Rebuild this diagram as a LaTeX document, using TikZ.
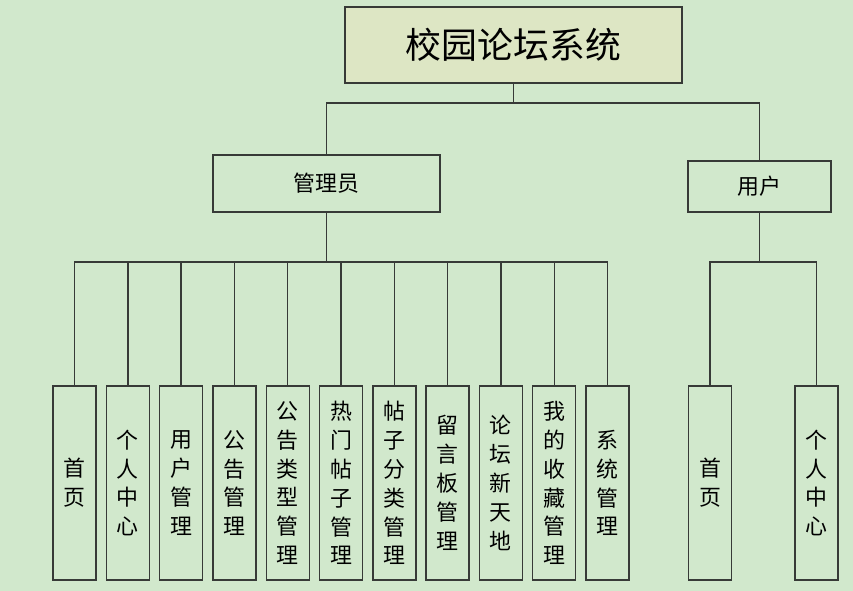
\documentclass[tikz,border=0pt]{standalone}
\usepackage{fontspec}
\newfontfamily\cjk{Noto Sans CJK SC}
\usepackage{tikz}
\usetikzlibrary{positioning}
\definecolor{bgcol}{RGB}{209,232,204}
\definecolor{topcol}{RGB}{221,230,196}
\definecolor{linecol}{RGB}{55,58,55}
\tikzstyle{topbox} = [rectangle, draw=linecol, line width=1.4bp, fill=topcol, minimum width=337bp, minimum height=76bp, font=\cjk\fontsize{36}{40}\selectfont]
\tikzstyle{midbox} = [rectangle, draw=linecol, line width=1.4bp, minimum height=57bp, font=\cjk\fontsize{22}{25}\selectfont]
\tikzstyle{leaf} = [rectangle, draw=linecol, line width=1.4bp, minimum width=43bp, minimum height=194bp, inner sep=0pt, align=center, font=\cjk\fontsize{22}{29}\selectfont]
\tikzstyle{line} = [line width=1.4bp,-,draw=linecol]

\begin{document}
\begin{tikzpicture}
\fill[bgcol] (0bp,0bp) rectangle (853bp,591bp);
\useasboundingbox (0bp,0bp) rectangle (853bp,591bp);
%%
\node (root) at (513.5bp,546bp) [topbox] {校园论坛系统};
\node (admin) at (326.5bp,407.5bp) [midbox, minimum width=227bp] {管理员};
\node (user) at (759.5bp,404.5bp) [midbox, minimum width=143bp, minimum height=51bp] {用户};
%% admin leaves
\node (a1) at (74.5bp,108bp) [leaf] {首\\页};
\node (a2) at (127.8bp,108bp) [leaf] {个\\人\\中\\心};
\node (a3) at (181.1bp,108bp) [leaf] {用\\户\\管\\理};
\node (a4) at (234.4bp,108bp) [leaf] {公\\告\\管\\理};
\node (a5) at (287.7bp,108bp) [leaf] {公\\告\\类\\型\\管\\理};
\node (a6) at (341.0bp,108bp) [leaf] {热\\门\\帖\\子\\管\\理};
\node (a7) at (394.3bp,108bp) [leaf] {帖\\子\\分\\类\\管\\理};
\node (a8) at (447.6bp,108bp) [leaf] {留\\言\\板\\管\\理};
\node (a9) at (500.9bp,108bp) [leaf] {论\\坛\\新\\天\\地};
\node (a10) at (554.2bp,108bp) [leaf] {我\\的\\收\\藏\\管\\理};
\node (a11) at (607.5bp,108bp) [leaf] {系\\统\\管\\理};
%% user leaves
\node (u1) at (710bp,108bp) [leaf] {首\\页};
\node (u2) at (816.5bp,108bp) [leaf] {个\\人\\中\\心};
%%
\draw [line] (root.south) -- (root.south |- 0,488bp) -| (admin.north);
\draw [line] (root.south) -- (root.south |- 0,488bp) -| (user.north);
\foreach \i in {1,...,11}
  \draw [line] (admin.south) -- (admin.south |- 0,329bp) -| (a\i.north);
\foreach \i in {1,2}
  \draw [line] (user.south) -- (user.south |- 0,329bp) -| (u\i.north);
%
\end{tikzpicture}
\end{document}
